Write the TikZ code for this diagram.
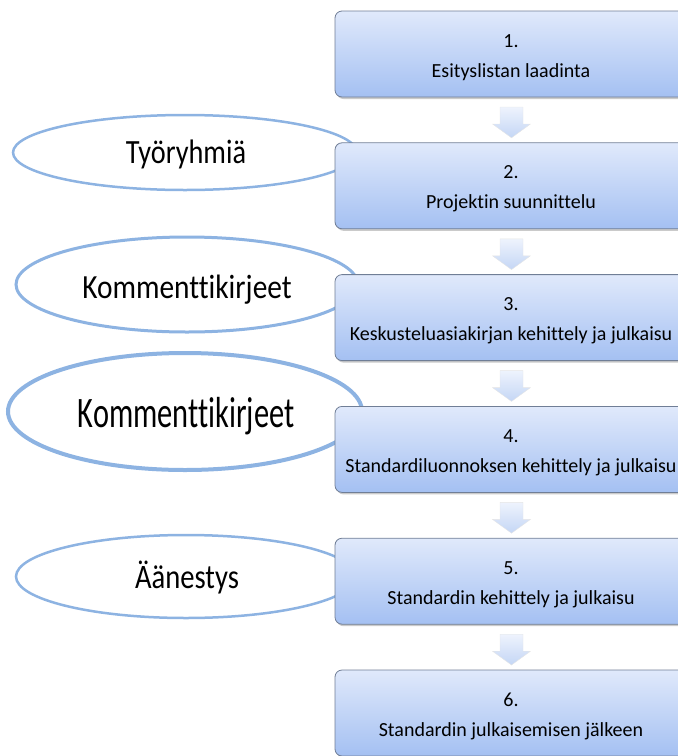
\documentclass[tikz,border=0pt]{standalone}
\usepackage{fontspec}
\setmainfont{Carlito}[Ligatures={NoCommon,NoRare,NoContextual}]
\usetikzlibrary{shapes.geometric,shadows,calc}
\definecolor{ellcol}{RGB}{141,179,226}
\definecolor{boxtop}{RGB}{224,233,251}
\definecolor{boxbot}{RGB}{164,192,242}
\definecolor{boxline}{RGB}{112,126,150}
\definecolor{arrtop}{RGB}{238,243,253}
\definecolor{arrbot}{RGB}{196,214,245}
\begin{document}
\begin{tikzpicture}[x=1pt,y=-1pt,
  stepbox/.style={rectangle, rounded corners=7pt, minimum width=352pt, minimum height=86pt,
    draw=boxline, line width=0.8pt, top color=boxtop, bottom color=boxbot,
    outer sep=0pt, inner sep=0pt,
    drop shadow={shadow xshift=1.5pt, shadow yshift=-2pt, opacity=0.35, fill=black!60}},
  oval/.style={ellipse, draw=ellcol, fill=white, inner sep=0pt, outer sep=0pt},
  blockarrow/.style={top color=arrtop, bottom color=arrbot, draw=black!10, line width=0.4pt},
  boxtxt/.style={anchor=base, inner sep=0pt, font=\fontsize{20}{24}\selectfont},
  elltxt/.style={anchor=base, inner sep=0pt}
]
\useasboundingbox (0,0) rectangle (678,756);
\clip (0,0) rectangle (678,756);

% ellipses
\node[oval, minimum width=344pt, minimum height=75pt, line width=2.5pt] (e1) at (185,152.5) {};
\node[oval, minimum width=342pt, minimum height=95pt, line width=3pt] (e2) at (187,284.5) {};
\node[oval, minimum width=354pt, minimum height=117pt, line width=4pt] (e3) at (185,411.5) {};
\node[oval, minimum width=340pt, minimum height=83pt, line width=2.5pt] (e4) at (186,576.5) {};

\node[elltxt] (t1) at (186,163) {\fontsize{28.3}{34}\selectfont\scalebox{1}[1.2]{Työryhmiä}};
\node[elltxt] (t2) at (187,298) {\fontsize{29.4}{35}\selectfont\scalebox{1}[1.15]{Kommenttikirjeet}};
\node[elltxt] (t3) at (186,427) {\fontsize{30.4}{36}\selectfont\scalebox{1}[1.43]{Kommenttikirjeet}};
\node[elltxt] (t4) at (187,588) {\fontsize{28.6}{34}\selectfont\scalebox{1}[1.2]{Äänestys}};

% boxes
\node[stepbox, anchor=north west] (b1) at (335,11) {};
\node[stepbox, anchor=north west] (b2) at (335,142.8) {};
\node[stepbox, anchor=north west] (b3) at (335,274.6) {};
\node[stepbox, anchor=north west] (b4) at (335,406.4) {};
\node[stepbox, anchor=north west] (b5) at (335,538.2) {};
\node[stepbox, anchor=north west] (b6) at (335,670) {};

\foreach \b/\n/\t in {b1/1./Esityslistan laadinta,
                      b2/2./Projektin suunnittelu,
                      b3/3./Keskusteluasiakirjan kehittely ja julkaisu,
                      b4/4./Standardiluonnoksen kehittely ja julkaisu,
                      b5/5./Standardin kehittely ja julkaisu,
                      b6/6./Standardin julkaisemisen jälkeen}{
  \node[boxtxt] (\b n) at ($(\b.north)+(0,36)$) {\n};
  \node[boxtxt] (\b t) at ($(\b.north)+(0,66)$) {\t};
}

% block arrows
\foreach \a/\c in {b1/b2,b2/b3,b3/b4,b4/b5,b5/b6}{
  \path[blockarrow]
    ($(\a.south)+(-11,10)$) -- ($(\a.south)+(12,10)$) -- ($(\a.south)+(12,27)$)
    -- ($(\a.south)+(19.5,27)$) -- ($(\c.north)+(0.5,-5)$)
    -- ($(\a.south)+(-18.5,27)$) -- ($(\a.south)+(-11,27)$) -- cycle;
}
\end{tikzpicture}
\end{document}
